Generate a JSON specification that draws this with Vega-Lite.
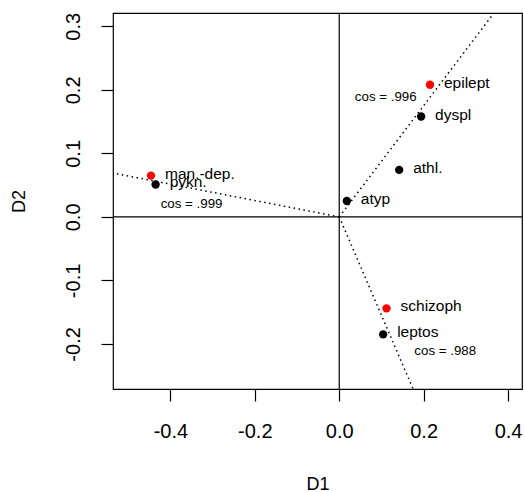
{
  "$schema": "https://vega.github.io/schema/vega-lite/v6.json",
  "width": 409,
  "height": 376,
  "autosize": {"type": "none"},
  "padding": {"left": 113, "top": 13, "right": 2, "bottom": 103},
  "background": "white",
  "config": {
    "font": "Liberation Sans",
    "view": {"stroke": "black", "strokeWidth": 1.2},
    "axis": {"grid": false, "domain": false, "tickColor": "black", "tickSize": 12, "tickWidth": 1.2, "labelColor": "black", "titleColor": "black", "labelFontSize": 20, "titleFontSize": 18, "titleFontWeight": "normal", "labelFont": "Liberation Sans", "titleFont": "Liberation Sans"}
  },
  "datasets": {
    "origin": [{"D1": 0, "D2": 0}],
    "points": [
      {"label": "epilept", "D1": 0.215, "D2": 0.208, "kind": "supplementary"},
      {"label": "dyspl", "D1": 0.194, "D2": 0.158, "kind": "active"},
      {"label": "athl.", "D1": 0.142, "D2": 0.074, "kind": "active"},
      {"label": "atyp", "D1": 0.018, "D2": 0.025, "kind": "active"},
      {"label": "man.-dep.", "D1": -0.446, "D2": 0.065, "kind": "supplementary"},
      {"label": "pykn.", "D1": -0.435, "D2": 0.051, "kind": "active"},
      {"label": "schizoph", "D1": 0.112, "D2": -0.144, "kind": "supplementary"},
      {"label": "leptos", "D1": 0.104, "D2": -0.185, "kind": "active"}
    ],
    "segments": [
      {"x1": 0, "y1": 0, "x2": 0.3666, "y2": 0.321},
      {"x1": 0, "y1": 0, "x2": -0.536, "y2": 0.069},
      {"x1": 0, "y1": 0, "x2": 0.175, "y2": -0.271}
    ],
    "cosines": [
      {"text": "cos = .996", "D1": 0.037, "D2": 0.188},
      {"text": "cos = .999", "D1": -0.423, "D2": 0.0205},
      {"text": "cos = .988", "D1": 0.178, "D2": -0.211}
    ]
  },
  "layer": [
    {
      "data": {"name": "origin"},
      "mark": {"type": "rule", "color": "black", "strokeWidth": 1.2},
      "encoding": {
        "x": {"field": "D1", "type": "quantitative", "scale": {"domain": [-0.536, 0.433], "nice": false, "zero": false},
          "axis": {"values": [-0.4, -0.2, 0, 0.2, 0.4], "labelExpr": "datum.value < 0 ? '-' + format(-datum.value, '.1f') : format(datum.value, '.1f')", "labelBaseline": "middle", "labelPadding": 30, "title": "D1", "titleX": 204.5, "titleY": 95, "titleBaseline": "middle"}}
      }
    },
    {
      "data": {"name": "origin"},
      "mark": {"type": "rule", "color": "black", "strokeWidth": 1.2},
      "encoding": {"y": {"field": "D2", "type": "quantitative", "scale": {"domain": [-0.271, 0.321], "nice": false, "zero": false},
        "axis": {"values": [-0.2, -0.1, 0, 0.1, 0.2, 0.3], "labelExpr": "datum.value < 0 ? '-' + format(-datum.value, '.1f') : format(datum.value, '.1f')", "labelAngle": -90, "labelAlign": "center", "labelBaseline": "middle", "labelPadding": 28, "title": "D2", "titleX": -94, "titleY": 188, "titleAngle": -90, "titleBaseline": "middle", "titleAlign": "center"}}}
    },
    {
      "data": {"name": "segments"},
      "mark": {"type": "rule", "color": "black", "strokeWidth": 1.5, "strokeDash": [1.5, 3.5], "clip": true},
      "encoding": {
        "x": {"field": "x1", "type": "quantitative"},
        "y": {"field": "y1", "type": "quantitative"},
        "x2": {"field": "x2"},
        "y2": {"field": "y2"}
      }
    },
    {
      "data": {"name": "points"},
      "mark": {"type": "circle", "size": 70, "opacity": 1},
      "encoding": {
        "x": {"field": "D1", "type": "quantitative"},
        "y": {"field": "D2", "type": "quantitative"},
        "color": {"field": "kind", "type": "nominal", "scale": {"domain": ["supplementary", "active"], "range": ["#ff0000", "#000000"]}, "legend": null}
      }
    },
    {
      "data": {"name": "points"},
      "mark": {"type": "text", "align": "left", "baseline": "middle", "dx": 14, "dy": -2, "fontSize": 15.5, "color": "black"},
      "encoding": {
        "x": {"field": "D1", "type": "quantitative"},
        "y": {"field": "D2", "type": "quantitative"},
        "text": {"field": "label"}
      }
    },
    {
      "data": {"name": "cosines"},
      "mark": {"type": "text", "align": "left", "baseline": "middle", "fontSize": 13.3, "color": "black"},
      "encoding": {
        "x": {"field": "D1", "type": "quantitative"},
        "y": {"field": "D2", "type": "quantitative"},
        "text": {"field": "text"}
      }
    }
  ]
}
